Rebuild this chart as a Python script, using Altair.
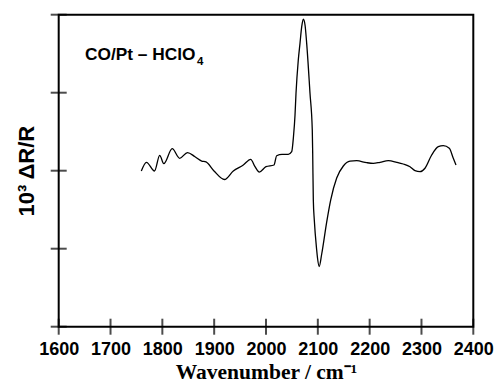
import altair as alt
import pandas as pd

# Spectrum (wavenumber in cm-1, signal in 10^3 dR/R axis units)
wavenumber = [1759.4, 1769.4, 1784.9, 1794.9, 1802.8, 1819.0, 1833.5, 1848.5, 1863.0,
              1875.9, 1884.2, 1899.7, 1919.9, 1936.9, 1956.2, 1970.5, 1978.8, 1987.1,
              2000.0, 2015.4, 2020.6, 2030.9, 2043.0, 2049.6, 2053.0, 2056.0, 2057.9,
              2062.3, 2065.6, 2068.9, 2072.0, 2075.3, 2078.5, 2084.9, 2089.3, 2090.1,
              2091.3, 2093.2, 2097.8, 2099.4, 2102.7, 2107.5, 2117.1, 2124.8, 2136.4,
              2149.2, 2162.1, 2175.0, 2194.3, 2207.0, 2220.0, 2236.0, 2252.2, 2264.9,
              2277.9, 2287.5, 2297.2, 2306.8, 2319.7, 2332.5, 2342.1, 2353.7, 2361.4,
              2366.6]
signal = [1.996, 2.108, 1.996, 2.197, 2.090, 2.282, 2.159, 2.233, 2.179,
          2.124, 2.112, 1.996, 1.887, 1.996, 2.073, 2.146, 2.051, 1.983,
          2.051, 2.073, 2.192, 2.210, 2.210, 2.244, 2.436, 2.714, 2.992,
          3.419, 3.633, 3.846, 3.942, 3.868, 3.633, 2.992, 2.522, 2.223,
          1.624, 1.368, 0.983, 0.881, 0.772, 0.932, 1.342, 1.624, 1.906,
          2.060, 2.122, 2.128, 2.103, 2.095, 2.108, 2.128, 2.108, 2.086,
          2.051, 2.000, 1.987, 2.031, 2.201, 2.308, 2.321, 2.287, 2.159,
          2.073]

x_ticks = [1600, 1700, 1800, 1900, 2000, 2100, 2200, 2300, 2400]
y_ticks = [0, 1, 2, 3, 4]

label_main = ["CO/Pt \u2013 HClO"]
label_sub = ["4"]

df = pd.DataFrame({"wn": wavenumber, "v": signal})
xt = pd.DataFrame({"wn": x_ticks})
yt = pd.DataFrame({"v": y_ticks})

W, H = 414.6, 312

x_enc = alt.X(
    "wn:Q",
    scale=alt.Scale(domain=[1600, 2400], nice=False, zero=False),
    axis=alt.Axis(
        values=x_ticks, format="d", ticks=False, domain=False, grid=False,
        labelFont="Liberation Sans", labelFontWeight="bold", labelFontSize=18,
        labelColor="black", labelPadding=14, labelFlush=False, labelOverlap=False,
        title="Wavenumber / cm\u207b\u00b9", titleFont="Liberation Serif",
        titleFontSize=21.5, titleFontWeight="bold", titleColor="black",
        titleBaseline="alphabetic", titleY=52,
    ),
)
y_enc = alt.Y(
    "v:Q",
    scale=alt.Scale(domain=[0, 4], nice=False, zero=False),
    axis=alt.Axis(
        values=y_ticks, labels=False, ticks=False, domain=False, grid=False,
        title="10\u00b3 \u0394R/R", titleFont="Liberation Sans", titleFontSize=22,
        titleFontWeight="bold", titleColor="black", titleBaseline="alphabetic",
        titleX=-25.7, titleY=H / 2, titleAngle=270,
    ),
)

line = alt.Chart(df).mark_line(
    color="black", strokeWidth=1.3, interpolate="monotone"
).encode(x=x_enc, y=y_enc)

xtick = alt.Chart(xt).mark_tick(
    color="black", thickness=2, size=16, orient="vertical"
).encode(x=x_enc, y=alt.value(H))

ytick = alt.Chart(yt).mark_tick(
    color="black", thickness=2, size=16, orient="horizontal"
).encode(y=y_enc, x=alt.value(0))

txt = alt.Chart(pd.DataFrame({"t": label_main})).mark_text(
    align="left", baseline="alphabetic", font="Liberation Sans",
    fontWeight="bold", fontSize=17.3, color="black"
).encode(text="t:N", x=alt.value(26.3), y=alt.value(45.5))

sub = alt.Chart(pd.DataFrame({"t": label_sub})).mark_text(
    align="left", baseline="alphabetic", font="Liberation Sans",
    fontWeight="bold", fontSize=11.5, color="black"
).encode(text="t:N", x=alt.value(138.3), y=alt.value(50.5))

chart = alt.layer(line, xtick, ytick, txt, sub).properties(
    width=W, height=H,
    autosize=alt.AutoSizeParams(type="none"),
    padding={"left": 58.7, "top": 14.7, "right": 27.7, "bottom": 58.3},
    background="white",
).configure_view(stroke="black", strokeWidth=2)

chart.save("out.html", embed_options={"renderer": "svg", "actions": False})
